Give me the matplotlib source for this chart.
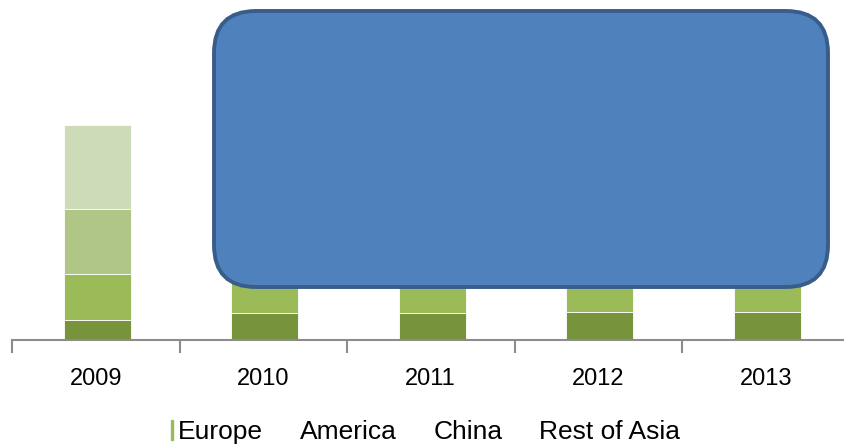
import matplotlib.pyplot as plt
import numpy as np
from matplotlib.patches import FancyBboxPatch, Rectangle

plt.rcParams['font.family'] = ['Liberation Sans', 'DejaVu Sans']

years = ['2009', '2010', '2011', '2012', '2013']
regions = ['Europe', 'America', 'China', 'Rest of Asia']
# stacked values (the 2010-2013 upper segments are hidden by the box)
europe = [2.0, 2.7, 2.7, 2.85, 2.85]
america = [4.6, 4.8, 4.9, 5.0, 5.1]
china = [6.5, 6.6, 6.8, 7.0, 7.2]
rest_asia = [8.4, 8.6, 8.8, 9.0, 9.2]
colors = ['#77933C', '#9BBB59', '#AFC687', '#CDDBB8']

fig = plt.figure(figsize=(8.45, 4.45), dpi=100)
ax = fig.add_axes([12 / 845, 105 / 445, 837.5 / 845, 340 / 445])

x = np.arange(len(years))
bottom = np.zeros(len(years))
for vals, c, name in zip([europe, america, china, rest_asia], colors, regions):
    ax.bar(x + 0.01, vals, width=0.4, bottom=bottom, color=c, edgecolor='white',
           linewidth=0.6, label=name)
    bottom += np.array(vals)

ax.set_xlim(-0.5, len(years) - 0.5)
ax.set_ylim(0, 34)
for s in ['top', 'right', 'left']:
    ax.spines[s].set_visible(False)
ax.spines['bottom'].set_color('#8C8C8C')
ax.spines['bottom'].set_linewidth(1.5)
ax.set_yticks([])
ax.set_xticks(x)
ax.set_xticklabels(years, fontsize=17)
ax.tick_params(axis='x', which='major', length=0, pad=20)
ax.set_xticks(np.arange(-0.5, len(years), 1), minor=True)
ax.tick_params(axis='x', which='minor', length=9, width=1.5, color='#8C8C8C')

# big rounded box on top of the chart
over = fig.add_axes([0, 0, 1, 1])
over.set_xlim(0, 845)
over.set_ylim(445, 0)
over.axis('off')
over.patch.set_alpha(0)
box = FancyBboxPatch((214, 11), 614, 276, boxstyle='round,pad=0,rounding_size=42',
                     facecolor='#4F81BD', edgecolor='#385D8A', linewidth=2.8)
over.add_patch(box)

handles = [Rectangle((0, 0), 1, 1, color='#9BBB59')]
handles += [Rectangle((0, 0), 1, 1, color='white') for c in colors[1:]]
fig.legend(handles, regions, loc='center', bbox_to_anchor=(0.504, 0.03),
           ncol=4, frameon=False, fontsize=19, handlelength=0.06,
           handleheight=0.8, handletextpad=0.2, columnspacing=1.13)

fig.savefig('out.png', dpi=100)
